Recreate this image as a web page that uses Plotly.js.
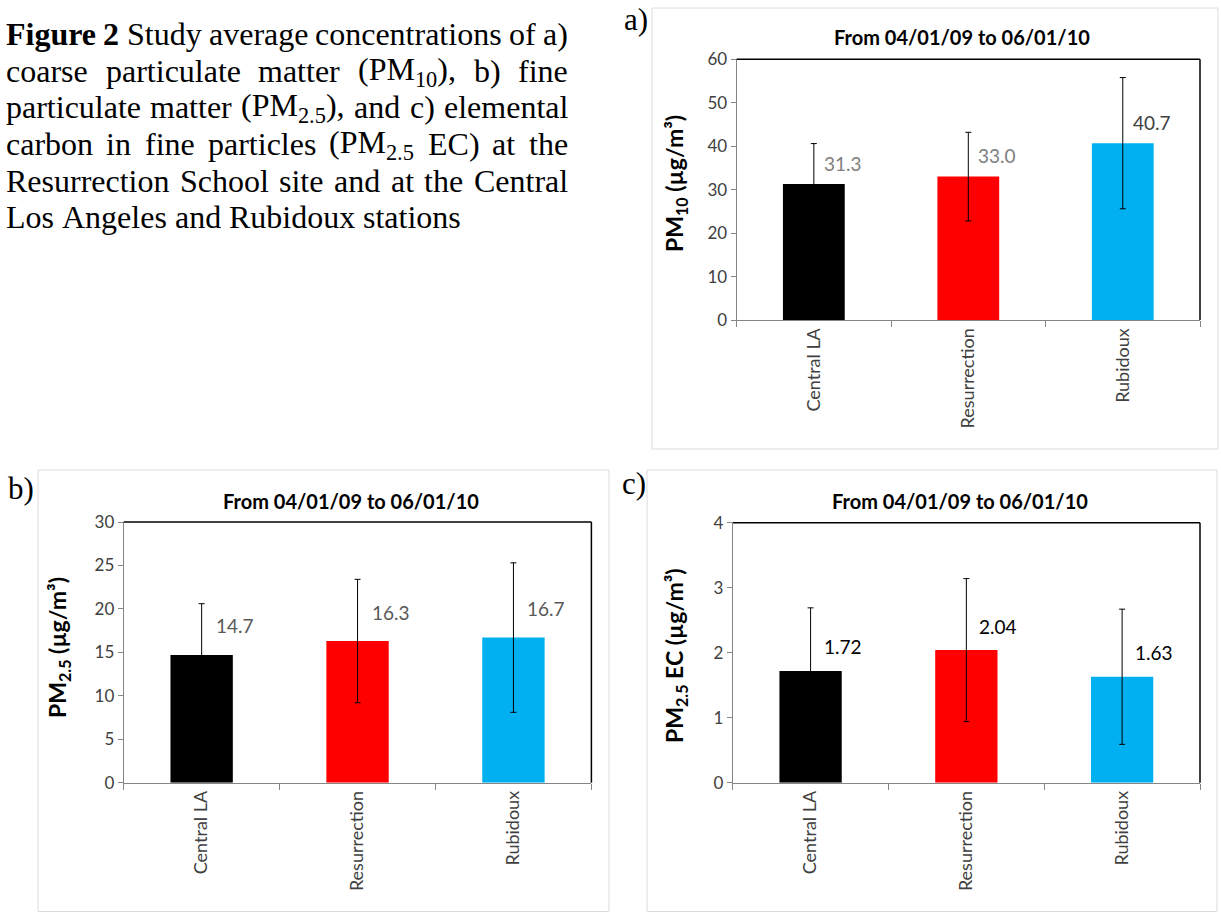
<!DOCTYPE html>
<html><head><meta charset="utf-8">
<script src="https://cdn.plot.ly/plotly-3.0.1.min.js"></script>
<style>html,body{margin:0;padding:0;background:#fff}#chart{width:1221px;height:914px}</style>
</head><body><div id="chart"></div>
<script>
// ---------- data ----------
const categories = ['Central LA', 'Resurrection', 'Rubidoux'];
const pm10Mean = [31.3, 33.0, 40.7];
const pm10Sd   = [9.3, 10.2, 15.1];
const pm25Mean = [14.7, 16.3, 16.7];
const pm25Sd   = [5.9, 7.1, 8.6];
const ecMean   = [1.72, 2.04, 1.63];
const ecSd     = [0.97, 1.10, 1.04];
const pm10Ticks = [0, 10, 20, 30, 40, 50, 60];
const pm25Ticks = [0, 5, 10, 15, 20, 25, 30];
const ecTicks   = [0, 1, 2, 3, 4];
const periodTitle = 'From 04/01/09 to 06/01/10';
const captionLines = [
  '<b>Figure</b> <b>2</b> Study average concentrations of a)',
  'coarse particulate matter (PM<sub>10</sub>), b) fine',
  'particulate matter (PM<sub>2.5</sub>), and c) elemental',
  'carbon in fine particles (PM<sub>2.5</sub> EC) at the',
  'Resurrection School site and at the Central',
  'Los Angeles and Rubidoux stations'
];

// ---------- layout helpers ----------
const W = 1221, H = 914;
const px = v => v / W;
const py = v => 1 - v / H;
const F = 'Lato, "Open Sans", sans-serif';
const SERIF = '"Liberation Serif", "Times New Roman", serif';
const barColors = ['#000000', '#ff0000', '#00b0f0'];

const panels = [
  {id: '', mean: pm10Mean, sd: pm10Sd, ticks: pm10Ticks, digits: 1,
   box: [736.6, 1200, 59.3, 320], titleX: 962, titleY: 37, ytitle: 'PM<sub>10</sub> (µg/m³)',
   ytX: 675, ytY: 184, labColors: ['#808080', '#808080', '#404040'], xshift: 8, yshift: 21,
   frame: [652, 1218, 8, 449], letter: 'a)', letterXY: [636, 19]},
  {id: '2', mean: pm25Mean, sd: pm25Sd, ticks: pm25Ticks, digits: 1,
   box: [123.7, 591.4, 522, 782.7], titleX: 351, titleY: 500.7, ytitle: 'PM<sub>2.5</sub> (µg/m³)',
   ytX: 58, ytY: 648, labColors: ['#595959', '#595959', '#595959'], xshift: 12, yshift: 29,
   frame: [38, 609, 470, 911.5], letter: 'b)', letterXY: [21, 488]},
  {id: '3', mean: ecMean, sd: ecSd, ticks: ecTicks, digits: 2,
   box: [732.7, 1200, 522.7, 782.7], titleX: 960, titleY: 500.7, ytitle: 'PM<sub>2.5</sub> EC (µg/m³)',
   ytX: 675, ytY: 656, labColors: ['#000000', '#000000', '#000000'], xshift: 11, yshift: 24,
   frame: [647, 1217, 470, 911.5], letter: 'c)', letterXY: [634, 483]}
];

const data = [];
const layout = {
  width: W, height: H, margin: {l: 0, r: 0, t: 0, b: 0},
  paper_bgcolor: '#fff', plot_bgcolor: '#fff',
  showlegend: false, bargap: 0.6,
  annotations: [], shapes: []
};

panels.forEach(p => {
  const xa = 'x' + p.id, ya = 'y' + p.id;
  const [l, r, t, b] = p.box;
  data.push({
    type: 'bar', x: categories, y: p.mean, xaxis: xa, yaxis: ya,
    marker: {color: barColors, line: {width: 0}},
    error_y: {type: 'data', array: p.sd, visible: true, color: '#000', thickness: 1, width: 3},
    hoverinfo: 'none'
  });
  layout['xaxis' + p.id] = {
    domain: [px(l), px(r)], anchor: ya, type: 'category', range: [-0.5, 2.5],
    tickson: 'boundaries', ticks: 'outside', ticklen: 6, tickcolor: '#868686',
    showline: true, linecolor: '#868686', linewidth: 1, showgrid: false, zeroline: false,
    tickangle: -90, tickfont: {family: F, size: 18, color: '#404040'}, fixedrange: true
  };
  layout['yaxis' + p.id] = {
    domain: [py(b), py(t)], anchor: xa, range: [0, p.ticks[p.ticks.length - 1]],
    tickvals: p.ticks, ticks: 'outside', ticklen: 5, tickcolor: '#868686',
    showline: true, linecolor: '#868686', linewidth: 1, showgrid: false, zeroline: false,
    tickfont: {family: F, size: 17, color: '#404040'}, fixedrange: true
  };
  // plot-area border (top and right)
  layout.shapes.push({type: 'line', xref: xa + ' domain', yref: ya + ' domain', x0: 0, x1: 1, y0: 1, y1: 1, line: {color: '#000', width: 1.5}});
  layout.shapes.push({type: 'line', xref: xa + ' domain', yref: ya + ' domain', x0: 1, x1: 1, y0: 0, y1: 1, line: {color: '#000', width: 1.5}});
  // chart-area frame
  const [fl, fr, ft, fb] = p.frame;
  layout.shapes.push({type: 'rect', xref: 'paper', yref: 'paper', x0: px(fl), x1: px(fr), y0: py(fb), y1: py(ft), line: {color: '#dcdcdc', width: 1}, layer: 'below'});
  // title
  layout.annotations.push({xref: 'paper', yref: 'paper', x: px(p.titleX), y: py(p.titleY), text: periodTitle, showarrow: false,
    xanchor: 'center', yanchor: 'middle', font: {family: F, size: 20, color: '#000', weight: 700}});
  // y title
  layout.annotations.push({xref: 'paper', yref: 'paper', x: px(p.ytX), y: py(p.ytY), text: p.ytitle, showarrow: false, textangle: -90,
    xanchor: 'center', yanchor: 'middle', font: {family: F, size: 23, color: '#000', weight: 700}});
  // value labels
  p.mean.forEach((v, i) => {
    layout.annotations.push({xref: xa, yref: ya, x: categories[i], y: v, text: v.toFixed(p.digits), showarrow: false,
      xanchor: 'left', yanchor: 'middle', xshift: p.xshift, yshift: p.yshift, font: {family: F, size: 19, color: p.labColors[i]}});
  });
  // panel letter
  layout.annotations.push({xref: 'paper', yref: 'paper', x: px(p.letterXY[0]), y: py(p.letterXY[1]), text: p.letter, showarrow: false,
    xanchor: 'center', yanchor: 'middle', font: {family: SERIF, size: 31, color: '#000'}});
});

// ---------- caption (justified) ----------
const CAP_SIZE = 32, CAP_LEFT = 6, CAP_RIGHT = 568;
const capCenters = [34, 71, 107, 144, 181, 217];
const cnv = document.createElement('canvas').getContext('2d');
function measure(html) {
  let w = 0; const re = /<(b|sub|sup)>(.*?)<\/\1>|([^<]+)/g; let m;
  while ((m = re.exec(html)) !== null) {
    if (m[3] !== undefined) { cnv.font = CAP_SIZE + 'px ' + SERIF; w += cnv.measureText(m[3]).width; }
    else if (m[1] === 'b') { cnv.font = 'bold ' + CAP_SIZE + 'px ' + SERIF; w += cnv.measureText(m[2]).width; }
    else { cnv.font = (CAP_SIZE * 0.7) + 'px ' + SERIF; w += cnv.measureText(m[2]).width; }
  }
  return w;
}
cnv.font = CAP_SIZE + 'px ' + SERIF;
const spaceW = cnv.measureText(' ').width;
captionLines.forEach((line, li) => {
  const words = line.split(' ');
  const widths = words.map(measure);
  const total = widths.reduce((a, b) => a + b, 0);
  const last = li === captionLines.length - 1;
  const gap = last ? spaceW : Math.max(spaceW * 0.8, (CAP_RIGHT - CAP_LEFT - total) / (words.length - 1));
  let x = CAP_LEFT;
  words.forEach((w, wi) => {
    layout.annotations.push({xref: 'paper', yref: 'paper', x: px(x - 2), y: py(capCenters[li]), text: w, showarrow: false,
      xanchor: 'left', yanchor: 'middle', font: {family: SERIF, size: CAP_SIZE, color: '#000'}});
    x += widths[wi] + gap;
  });
});

Plotly.newPlot('chart', data, layout, {displayModeBar: false, staticPlot: true});
</script>
</body></html>
